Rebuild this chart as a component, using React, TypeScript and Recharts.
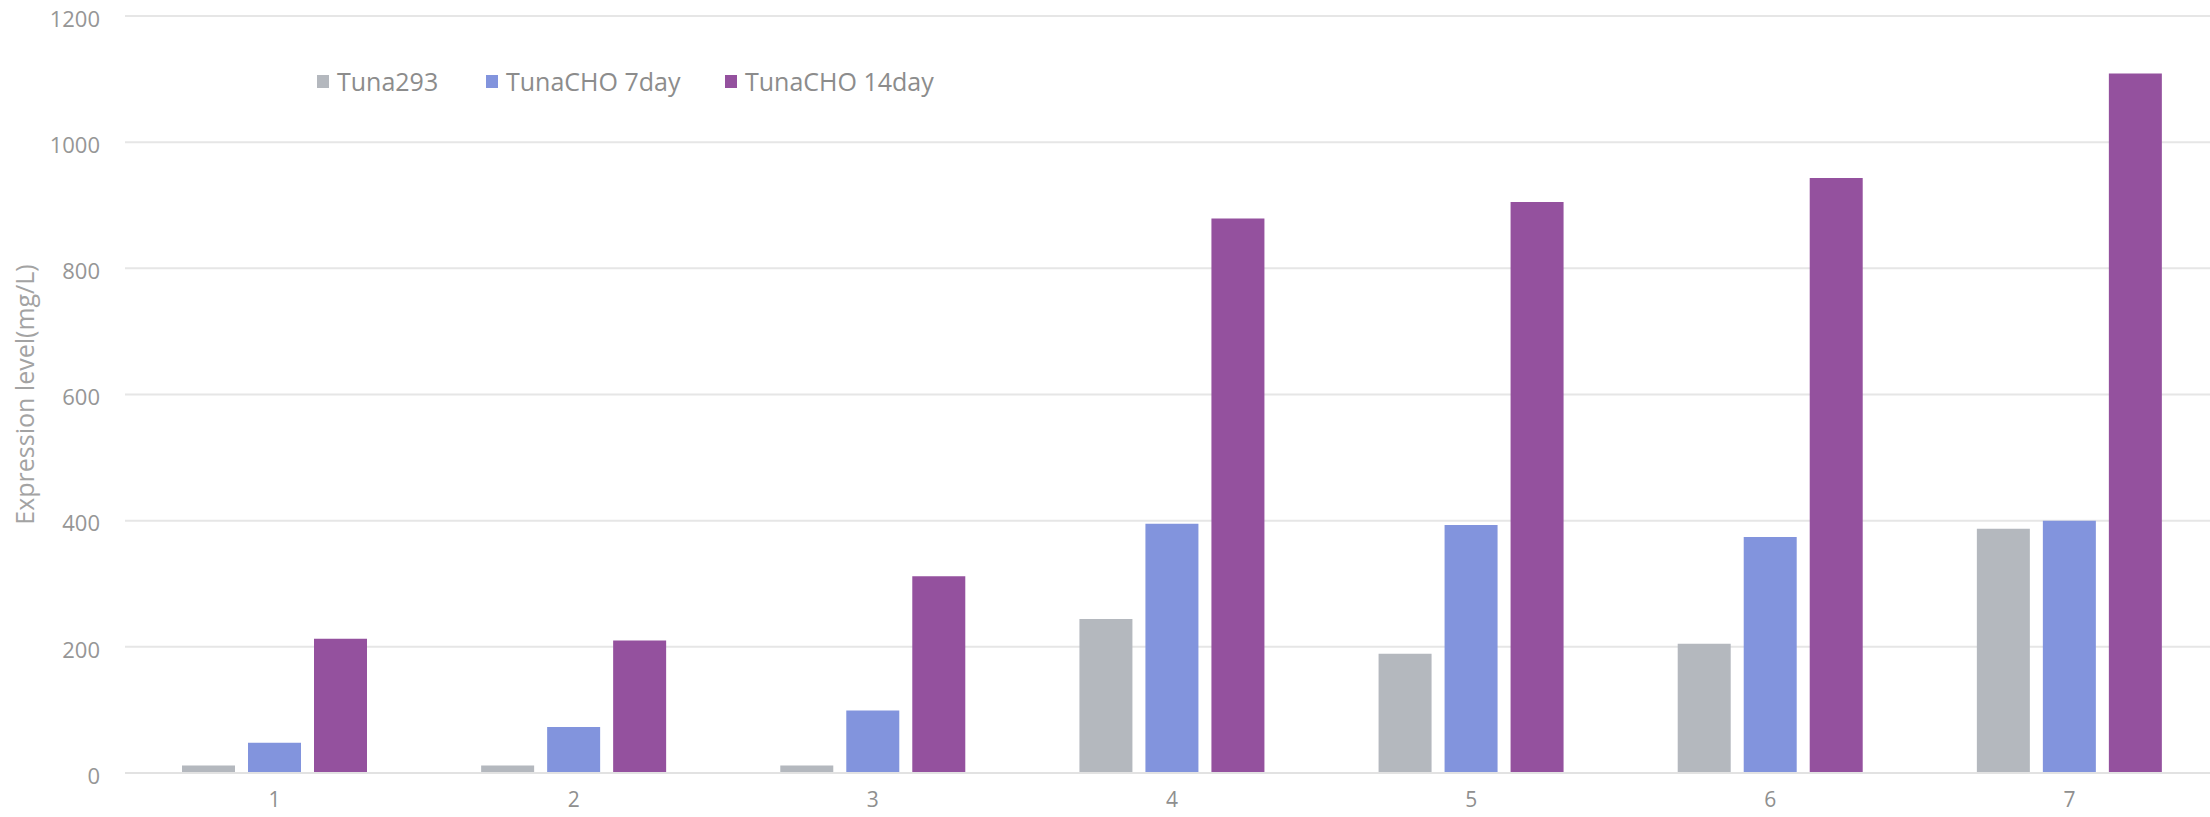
import {
  BarChart,
  Bar,
  XAxis,
  YAxis,
  CartesianGrid,
  Legend,
} from "recharts";


const groups = ["1", "2", "3", "4", "5", "6", "7"];

const tuna293 = [12, 12, 12, 244, 189, 205, 387];

const cho7day = [48, 73, 99, 395, 393, 374, 400];

const cho14day = [213, 210, 312, 879, 905, 943, 1109];

const yTicks = [0, 200, 400, 600, 800, 1000, 1200];

const seriesNames = ["Tuna293", "TunaCHO 7day", "TunaCHO 14day"];


const chartData = groups.map((g, i) => ({
  group: g,
  tuna293: tuna293[i],
  cho7: cho7day[i],
  cho14: cho14day[i],
}));


const FONT = "'Open Sans', sans-serif";

const itemWidths = [169, 239, 260];


function LegendRow(props: any) {

  // keep series order, recharts sorts the payload by name
  const payload = [...(props.payload || [])].sort(
    (a: any, b: any) => seriesNames.indexOf(a.value) - seriesNames.indexOf(b.value)
  );

  return (

    <div
      style={{
        display: "flex",
        alignItems: "center",
        fontFamily: FONT,
        fontSize: 25,
        color: "#8c8c8c",
        lineHeight: "30px",
      }}
    >

      {payload.map((entry: any, i: number) => (

        <div
          key={entry.value}
          style={{
            display: "flex",
            alignItems: "center",
            width: itemWidths[i],
          }}
        >

          <span
            style={{
              display: "inline-block",
              width: 12,
              height: 13,
              background: entry.color,
              marginRight: 8,
            }}
          />

          <span>{entry.value}</span>

        </div>

      ))}

    </div>

  );

}


export default function App() {


  return (

    <div
      style={{
        position: "fixed",
        left: 0,
        top: 0,
        width: 2210,
        height: 817,
        overflow: "hidden",
        background: "#fff",
      }}
    >

      <BarChart
        width={2220}
        height={817}
        data={chartData}
        margin={{ top: 16, right: 1, bottom: 0, left: 0 }}
        barSize={53}
        barGap={13}
      >

        <CartesianGrid
          vertical={false}
          stroke="#e6e6e6"
          strokeWidth={2}
        />


        <XAxis
          dataKey="group"
          height={44}
          tickLine={false}
          axisLine={{ stroke: "#e2e2e2", strokeWidth: 2 }}
          tickSize={0}
          tickMargin={19}
          tick={{ fill: "#8f8f8f", fontSize: 21, fontFamily: FONT }}
        />


        <YAxis
          width={125}
          domain={[0, 1200]}
          ticks={yTicks}
          interval={0}
          axisLine={false}
          tickLine={false}
          tickSize={0}
          tickMargin={25}
          tick={{ fill: "#969696", fontSize: 22, fontFamily: FONT, dy: 3 }}
          label={{
            value: "Expression level(mg/L)",
            angle: -90,
            position: "center",
            dx: -37,
            style: { fill: "#a3a3a3", fontSize: 25, fontFamily: FONT, textAnchor: "middle" },
          }}
        />


        <Legend
          layout="horizontal"
          verticalAlign="middle"
          align="center"
          content={<LegendRow />}
          wrapperStyle={{ top: 66, left: 317, width: "auto" }}
        />


        <Bar
          dataKey="tuna293"
          name={seriesNames[0]}
          fill="#b4b8be"
          isAnimationActive={false}
        />

        <Bar
          dataKey="cho7"
          name={seriesNames[1]}
          fill="#8294dd"
          isAnimationActive={false}
        />

        <Bar
          dataKey="cho14"
          name={seriesNames[2]}
          fill="#94519e"
          isAnimationActive={false}
        />


      </BarChart>

    </div>

  );

}
